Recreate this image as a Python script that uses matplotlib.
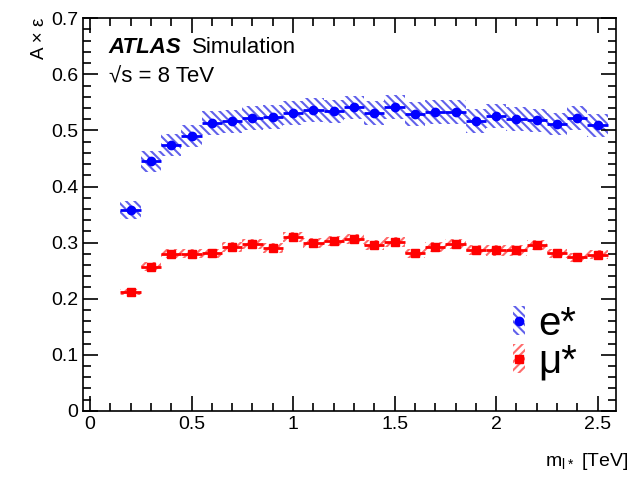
import numpy as np
import matplotlib
matplotlib.use("Agg")
import matplotlib.pyplot as plt
from matplotlib.patches import Patch
from matplotlib.lines import Line2D
from matplotlib.ticker import MultipleLocator

plt.rcParams['font.family'] = ['Liberation Sans', 'DejaVu Sans']
plt.rcParams['hatch.linewidth'] = 1.5

# mass points (TeV)
mass = [0.2, 0.3, 0.4, 0.5, 0.6, 0.7, 0.8, 0.9, 1.0, 1.1, 1.2, 1.3,
        1.4, 1.5, 1.6, 1.7, 1.8, 1.9, 2.0, 2.1, 2.2, 2.3, 2.4, 2.5]

# acceptance x efficiency, excited electrons
eff_e = [0.358, 0.445, 0.474, 0.490, 0.513, 0.516, 0.522, 0.524, 0.531, 0.536, 0.534, 0.541,
         0.531, 0.542, 0.529, 0.533, 0.533, 0.517, 0.526, 0.520, 0.518, 0.511, 0.522, 0.509]
err_e = [0.016, 0.019, 0.019, 0.020, 0.021, 0.021, 0.021, 0.021, 0.021, 0.021, 0.021, 0.021,
         0.021, 0.022, 0.021, 0.021, 0.021, 0.021, 0.021, 0.021, 0.021, 0.020, 0.021, 0.020]

# acceptance x efficiency, excited muons
eff_mu = [0.212, 0.257, 0.280, 0.280, 0.281, 0.292, 0.297, 0.290, 0.310, 0.299, 0.303, 0.306,
          0.296, 0.301, 0.281, 0.292, 0.297, 0.287, 0.286, 0.286, 0.296, 0.281, 0.274, 0.278]
err_mu = [0.006, 0.008, 0.008, 0.008, 0.008, 0.009, 0.009, 0.009, 0.009, 0.009, 0.009, 0.009,
          0.009, 0.009, 0.008, 0.009, 0.009, 0.009, 0.009, 0.009, 0.009, 0.008, 0.008, 0.008]

bw = 0.1

fig = plt.figure(figsize=(6.33, 4.8), dpi=100)
ax = fig.add_axes([0.131, 0.144, 0.842, 0.818])

blue_h = (0.38, 0.38, 0.92)
red_h = (1.0, 0.42, 0.42)
hatch_e = '\\\\\\\\'
hatch_mu = '////'

m = np.array(mass)
ye, ee = np.array(eff_e), np.array(err_e)
ym, em = np.array(eff_mu), np.array(err_mu)

ax.bar(m, 2 * ee, bottom=ye - ee, width=bw, fill=False, hatch=hatch_e,
       edgecolor=blue_h, linewidth=0)
ax.bar(m, 2 * em, bottom=ym - em, width=bw, fill=False, hatch=hatch_mu,
       edgecolor=red_h, linewidth=0)

ax.errorbar(m, ye, xerr=bw / 2, fmt='o', color='blue', ms=6, elinewidth=2, capsize=0)
ax.errorbar(m, ym, xerr=bw / 2, fmt='s', color='red', ms=5.5, elinewidth=2, capsize=0)

ax.set_xlim(-0.035, 2.59)
ax.set_ylim(0, 0.7)
ax.xaxis.set_minor_locator(MultipleLocator(0.1))
ax.yaxis.set_minor_locator(MultipleLocator(0.02))
ax.tick_params(which='both', direction='in', top=True, right=True, labelsize=14, width=1.2)
ax.tick_params(which='major', length=11)
ax.tick_params(which='minor', length=5.5)
for s in ax.spines.values():
    s.set_linewidth(1.2)
ax.set_xticks([0, 0.5, 1, 1.5, 2, 2.5])
ax.set_xticklabels(['0', '0.5', '1', '1.5', '2', '2.5'])
ax.set_yticks(np.arange(0, 0.71, 0.1))
ax.set_yticklabels(['0', '0.1', '0.2', '0.3', '0.4', '0.5', '0.6', '0.7'])

fig.text(628 / 633, 1 - 462 / 480, r'm$_{\mathregular{l*}}$ [TeV]', fontsize=14,
         ha='right', va='center')
fig.text(40 / 633, 1 - 18 / 480, 'A × ε', fontsize=13.5, rotation=90, ha='center', va='top')

ax.text(0.048, 0.925, 'ATLAS', transform=ax.transAxes, fontsize=16,
        fontweight='bold', style='italic', va='center')
ax.text(0.205, 0.925, 'Simulation', transform=ax.transAxes, fontsize=16, va='center')
ax.text(0.048, 0.85, '√s = 8 TeV', transform=ax.transAxes, fontsize=16, va='center')

h_e = (Patch(facecolor='none', edgecolor=blue_h, hatch=hatch_e, linewidth=0),
       Line2D([], [], marker='o', color='blue', ms=6, linestyle='none'))
h_mu = (Patch(facecolor='none', edgecolor=red_h, hatch=hatch_mu, linewidth=0),
        Line2D([], [], marker='s', color='red', ms=5.5, linestyle='none'))
ax.legend([h_e, h_mu], ['e*', 'μ*'], loc='upper left', bbox_to_anchor=(0.807, 0.27),
          frameon=False, fontsize=29, handlelength=0.3, handleheight=0.72,
          handletextpad=0.33, labelspacing=0.0, borderpad=0, borderaxespad=0)

fig.savefig('out.png', dpi=100)
